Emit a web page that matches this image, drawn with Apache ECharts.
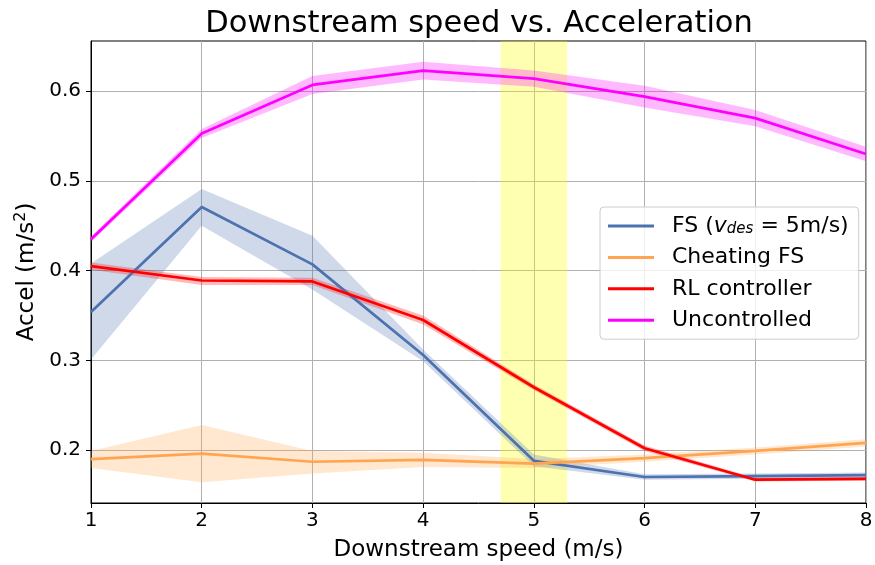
<!DOCTYPE html>
<html>
<head>
<meta charset="utf-8">
<script src="https://cdn.jsdelivr.net/npm/echarts@6/dist/echarts.min.js"></script>
<style>
html,body{margin:0;padding:0;background:#fff;}
#chart{width:875px;height:565px;}
</style>
</head>
<body>
<div id="chart"></div>
<script>
// ---- data ----
var speeds = [1, 2, 3, 4, 5, 6, 7, 8];
var xTicks = [1, 2, 3, 4, 5, 6, 7, 8];
var yTicks = [0.2, 0.3, 0.4, 0.5, 0.6];
var seriesNames = ['FS', 'Cheating FS', 'RL controller', 'Uncontrolled'];

var fsMean = [0.354, 0.471, 0.407, 0.306, 0.188, 0.170, 0.171, 0.172];
var fsLow  = [0.301, 0.450, 0.379, 0.299, 0.182, 0.167, 0.168, 0.169];
var fsHigh = [0.408, 0.491, 0.439, 0.312, 0.195, 0.173, 0.174, 0.175];

var cheatMean = [0.190, 0.196, 0.187, 0.189, 0.185, 0.191, 0.199, 0.208];
var cheatLow  = [0.180, 0.164, 0.174, 0.181, 0.180, 0.187, 0.195, 0.204];
var cheatHigh = [0.199, 0.228, 0.199, 0.197, 0.190, 0.195, 0.203, 0.212];

var rlMean = [0.405, 0.389, 0.388, 0.345, 0.270, 0.202, 0.167, 0.168];
var rlLow  = [0.401, 0.384, 0.384, 0.340, 0.267, 0.199, 0.165, 0.166];
var rlHigh = [0.409, 0.393, 0.392, 0.350, 0.273, 0.205, 0.169, 0.170];

var uncMean = [0.435, 0.553, 0.607, 0.623, 0.614, 0.594, 0.570, 0.530];
var uncLow  = [0.432, 0.548, 0.597, 0.613, 0.605, 0.582, 0.561, 0.522];
var uncHigh = [0.438, 0.558, 0.617, 0.633, 0.623, 0.606, 0.579, 0.538];

var highlightSpan = [4.7, 5.3];

// ---- styling ----
var FONT = 'DejaVu Sans';
var colors = ['#4c72b0', '#ffa552', '#ff0000', '#ff00ff'];

function bandSeries(name, low, high, color) {
  return {
    type: 'custom',
    name: name + ' band',
    silent: true,
    clip: true,
    z: 1,
    encode: { x: 0, y: [1, 2] },
    data: speeds.map(function (s, i) { return [s, low[i], high[i]]; }),
    renderItem: function (params, api) {
      if (params.dataIndex !== 0) return null;
      var pts = [];
      for (var i = 0; i < speeds.length; i++) pts.push(api.coord([speeds[i], high[i]]));
      for (var j = speeds.length - 1; j >= 0; j--) pts.push(api.coord([speeds[j], low[j]]));
      return {
        type: 'polygon',
        shape: { points: pts },
        style: { fill: color, opacity: 0.27, stroke: null }
      };
    }
  };
}

function lineSeries(name, mean, color) {
  return {
    type: 'line',
    name: name,
    data: speeds.map(function (s, i) { return [s, mean[i]]; }),
    symbol: 'none',
    z: 3,
    lineStyle: { color: color, width: 2.7 },
    itemStyle: { color: color },
    animation: false
  };
}

var chart = echarts.init(document.getElementById('chart'), null, { renderer: 'canvas' });

var series = [
  {
    type: 'line',
    name: 'span',
    data: [],
    silent: true,
    markArea: {
      silent: true,
      itemStyle: { color: 'rgba(255,255,0,0.3)' },
      data: [[{ xAxis: highlightSpan[0] }, { xAxis: highlightSpan[1] }]]
    }
  },
  bandSeries('FS', fsLow, fsHigh, colors[0]),
  bandSeries('Cheating FS', cheatLow, cheatHigh, colors[1]),
  bandSeries('RL controller', rlLow, rlHigh, colors[2]),
  bandSeries('Uncontrolled', uncLow, uncHigh, colors[3]),
  lineSeries('FS', fsMean, colors[0]),
  lineSeries('Cheating FS', cheatMean, colors[1]),
  lineSeries('RL controller', rlMean, colors[2]),
  lineSeries('Uncontrolled', uncMean, colors[3])
];

var option = {
  animation: false,
  backgroundColor: '#ffffff',
  textStyle: { fontFamily: FONT },
  title: {
    text: 'Downstream speed vs. Acceleration',
    left: 474,
    textAlign: 'center',
    top: 4,
    textStyle: { fontFamily: FONT, fontSize: 30.5, fontWeight: 'normal', color: '#000' }
  },
  grid: {
    left: 91, right: 9, top: 41, bottom: 62,
    containLabel: false,
    outerBoundsMode: 'none',
    show: true,
    borderColor: '#000',
    borderWidth: 1,
    backgroundColor: 'transparent'
  },
  legend: {
    orient: 'vertical',
    left: 600,
    top: 207,
    padding: [7, 10, 8, 8],
    itemGap: 9.4,
    itemWidth: 46,
    itemHeight: 3,
    icon: 'rect',
    backgroundColor: 'rgba(255,255,255,0.8)',
    borderColor: '#cccccc',
    borderWidth: 1,
    borderRadius: 4,
    data: seriesNames,
    formatter: function (name) {
      if (name === 'FS') return '{n|FS (}{v|v}{s|des}{n| = 5m/s)}';
      return name;
    },
    textStyle: {
      fontFamily: FONT, fontSize: 22, color: '#000', lineHeight: 22,
      padding: [0, 0, 0, 13],
      rich: {
        n: { fontFamily: FONT, fontSize: 22, color: '#000', lineHeight: 22 },
        v: { fontFamily: FONT, fontSize: 22, fontStyle: 'italic', color: '#000', lineHeight: 22 },
        s: { fontFamily: FONT, fontSize: 15, fontStyle: 'italic', color: '#000', lineHeight: 22, verticalAlign: 'bottom', padding: [8, 0, 0, 0] }
      }
    }
  },
  xAxis: {
    type: 'value',
    min: 1, max: 8, interval: 1,
    name: 'Downstream speed (m/s)',
    nameLocation: 'middle',
    nameGap: 36,
    nameTextStyle: { fontFamily: FONT, fontSize: 23, color: '#000' },
    axisLine: { show: true, lineStyle: { color: '#000', width: 1 } },
    axisTick: { show: true, inside: false, length: 5, lineStyle: { color: '#000' } },
    axisLabel: { fontFamily: FONT, fontSize: 20, color: '#000', margin: 8,
      customValues: xTicks },
    splitLine: { show: true, lineStyle: { color: '#b0b0b0', width: 1 } }
  },
  yAxis: {
    type: 'value',
    min: 0.141, max: 0.656,
    name: '{a|Accel (m/s}{p|2}{a|)}',
    nameLocation: 'middle',
    nameGap: 50,
    nameTextStyle: {
      fontFamily: FONT, fontSize: 23, color: '#000',
      rich: {
        a: { fontFamily: FONT, fontSize: 23, color: '#000' },
        p: { fontFamily: FONT, fontSize: 16, color: '#000', padding: [0, 0, 12, 0] }
      }
    },
    axisLine: { show: true, lineStyle: { color: '#000', width: 1 } },
    axisTick: { show: true, inside: false, length: 5, lineStyle: { color: '#000' }, customValues: yTicks },
    axisLabel: {
      fontFamily: FONT, fontSize: 20, color: '#000', margin: 10,
      customValues: yTicks,
      formatter: function (v) { return v.toFixed(1); }
    },
    splitLine: { show: true, lineStyle: { color: '#b0b0b0', width: 1 } }
  },
  series: series
};

chart.setOption(option);
</script>
</body>
</html>
